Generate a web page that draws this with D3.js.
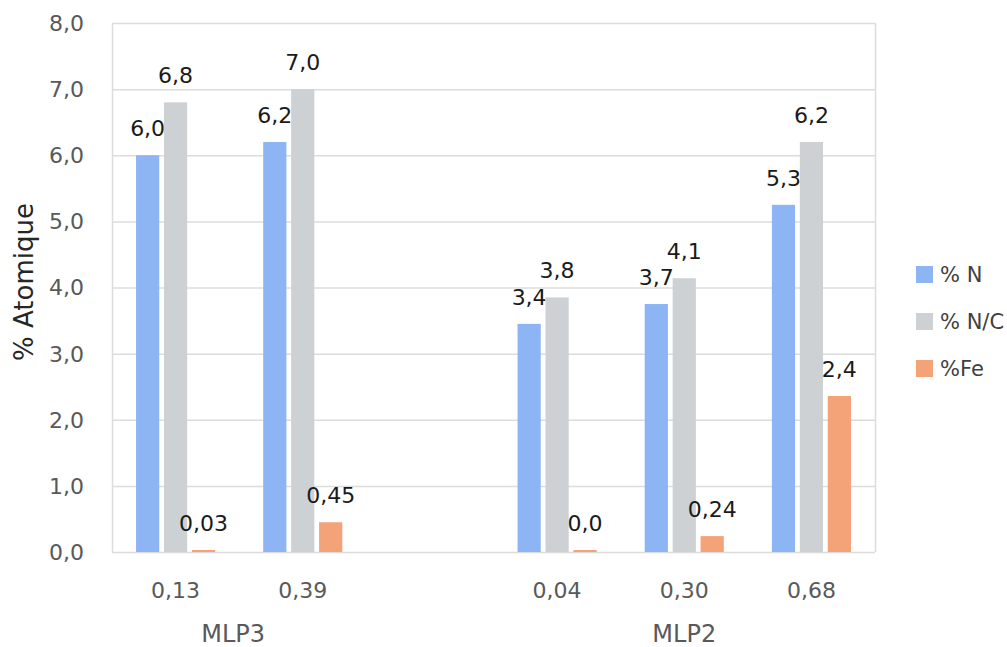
<!DOCTYPE html>
<html>
<head>
<meta charset="utf-8">
<script src="https://cdn.jsdelivr.net/npm/d3@7"></script>
<style>
  html, body { margin: 0; padding: 0; background: #fff; }
  svg { display: block; font-family: "DejaVu Sans", sans-serif; }
</style>
</head>
<body>
<svg id="chart" width="1007" height="647"></svg>
<script>
// ---- data ----
const categories = ["0,13", "0,39", "", "0,04", "0,30", "0,68"];
const groupNames = ["MLP3", "MLP2"];
const groupSpans = [[0, 1], [3, 5]];
const seriesNames = ["% N", "% N/C", "%Fe"];
const seriesColors = ["#8db4f3", "#cdd1d3", "#f4a278"];
const valuesN  = [6.0, 6.2, null, 3.45, 3.75, 5.25];
const valuesNC = [6.8, 7.0, null, 3.85, 4.14, 6.2];
const valuesFe = [0.03, 0.45, null, 0.03, 0.24, 2.36];
const labelsN  = ["6,0", "6,2", "", "3,4", "3,7", "5,3"];
const labelsNC = ["6,8", "7,0", "", "3,8", "4,1", "6,2"];
const labelsFe = ["0,03", "0,45", "", "0,0", "0,24", "2,4"];
const yTicks = [0, 1, 2, 3, 4, 5, 6, 7, 8];
const yTickLabels = ["0,0", "1,0", "2,0", "3,0", "4,0", "5,0", "6,0", "7,0", "8,0"];
const yTitle = "% Atomique";

const seriesValues = [valuesN, valuesNC, valuesFe];
const seriesLabels = [labelsN, labelsNC, labelsFe];

// ---- layout ----
const svg = d3.select("#chart");
const plot = { left: 112, right: 875, top: 23, bottom: 552 };

const x = d3.scaleBand().domain(d3.range(categories.length))
  .range([plot.left, plot.right]).paddingInner(0).paddingOuter(0);
const xs = d3.scaleBand().domain(d3.range(seriesNames.length))
  .range([0, x.bandwidth()]).paddingInner(0.17).paddingOuter(0.86);
const y = d3.scaleLinear().domain([0, 8]).range([plot.bottom, plot.top]);

// gridlines
svg.append("g").selectAll("line").data(yTicks).join("line")
  .attr("x1", plot.left).attr("x2", plot.right)
  .attr("y1", d => y(d) + 0.5).attr("y2", d => y(d) + 0.5)
  .attr("stroke", "#dcdcdc").attr("stroke-width", 1.5);
// vertical borders
svg.append("g").selectAll("line").data([plot.left, plot.right]).join("line")
  .attr("x1", d => d + 0.5).attr("x2", d => d + 0.5)
  .attr("y1", plot.top).attr("y2", plot.bottom)
  .attr("stroke", "#dcdcdc").attr("stroke-width", 1.5);

// y tick labels
svg.append("g").selectAll("text").data(yTicks).join("text")
  .attr("x", 84).attr("y", d => y(d))
  .attr("dy", "0.36em")
  .attr("text-anchor", "end")
  .attr("font-size", 22).attr("fill", "#595959")
  .text((d, i) => yTickLabels[i]);

// y title
svg.append("text")
  .attr("transform", "translate(33, 282) rotate(-90)")
  .attr("text-anchor", "middle")
  .attr("font-size", 26).attr("fill", "#262626")
  .text(yTitle);

// bars
seriesValues.forEach((vals, si) => {
  const g = svg.append("g");
  const data = vals.map((v, i) => ({ v, i, label: seriesLabels[si][i] })).filter(d => d.v !== null);
  g.selectAll("rect").data(data).join("rect")
    .attr("x", d => x(d.i) + xs(si))
    .attr("width", xs.bandwidth())
    .attr("y", d => y(d.v))
    .attr("height", d => y(0) - y(d.v))
    .attr("fill", seriesColors[si]);
  g.selectAll("text").data(data).join("text")
    .attr("x", d => x(d.i) + xs(si) + xs.bandwidth() / 2)
    .attr("y", d => y(d.v) - 19)
    .attr("text-anchor", "middle")
    .attr("font-size", 22).attr("fill", "#1a1a1a")
    .text(d => d.label);
});

// x category labels
svg.append("g").selectAll("text").data(categories).join("text")
  .attr("x", (d, i) => x(i) + x.bandwidth() / 2)
  .attr("y", 598)
  .attr("text-anchor", "middle")
  .attr("font-size", 22).attr("fill", "#595959")
  .text(d => d);

// group labels
svg.append("g").selectAll("text").data(groupNames).join("text")
  .attr("x", (d, i) => (x(groupSpans[i][0]) + x(groupSpans[i][1]) + x.bandwidth()) / 2 - (i === 0 ? 6 : 0))
  .attr("y", 642)
  .attr("text-anchor", "middle")
  .attr("font-size", 24).attr("fill", "#595959")
  .text(d => d);

// legend
const legendY = d3.scalePoint().domain(d3.range(seriesNames.length)).range([274, 368]);
const lg = svg.append("g").selectAll("g").data(seriesNames).join("g")
  .attr("transform", (d, i) => `translate(916, ${legendY(i)})`);
lg.append("rect").attr("x", 0).attr("y", -8).attr("width", 17).attr("height", 17)
  .attr("fill", (d, i) => seriesColors[i]);
lg.append("text").attr("x", 24).attr("y", 0).attr("dy", "0.36em")
  .attr("font-size", 21).attr("fill", "#404040")
  .text(d => d);
</script>
</body>
</html>
